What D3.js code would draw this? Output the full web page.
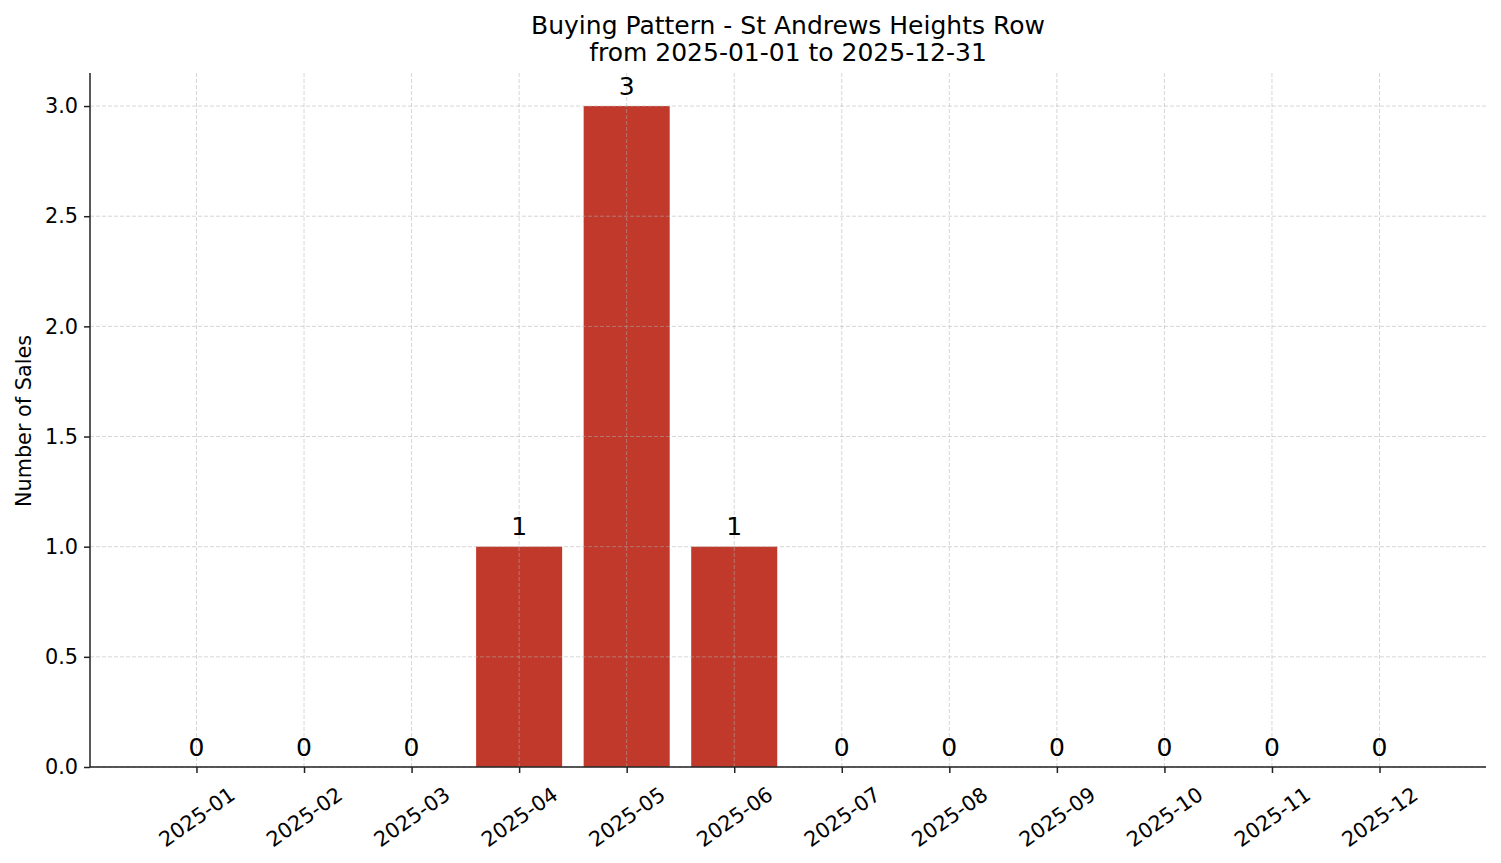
<!DOCTYPE html>
<html>
<head>
<meta charset="utf-8">
<script src="https://cdn.jsdelivr.net/npm/d3@7"></script>
<style>
  body { margin: 0; background: #fff; }
  text { font-family: "DejaVu Sans", sans-serif; fill: #000; }
</style>
</head>
<body>
<div id="chart"></div>
<script>
// 数据
const months = ["2025-01", "2025-02", "2025-03", "2025-04", "2025-05", "2025-06",
                "2025-07", "2025-08", "2025-09", "2025-10", "2025-11", "2025-12"];
const sales = [0, 0, 0, 1, 3, 1, 0, 0, 0, 0, 0, 0];
const yTicks = [0, 0.5, 1.0, 1.5, 2.0, 2.5, 3.0];
const titleLines = ["Buying Pattern - St Andrews Heights Row", "from 2025-01-01 to 2025-12-31"];

const WIDTH = 1501, HEIGHT = 863;
const X1 = 90, X2 = 1486, Y1 = 73, Y2 = 767;
const BAR_COLOR = "#c0392b";
const AXIS_COLOR = "#222";
const TICK_FONT = "20.8px";
const BIG_FONT = "25px";

const svg = d3.select("#chart").append("svg")
    .attr("width", WIDTH)
    .attr("height", HEIGHT);

// 比例尺
const x = d3.scaleLinear().domain([-0.99, months.length - 0.01]).range([X1, X2]);
const y = d3.scaleLinear().domain([0, d3.max(sales) * 1.05]).range([Y2, Y1]);

// 柱子
svg.append("g").selectAll("rect")
    .data(sales)
    .enter()
    .append("rect")
    .attr("x", (d, i) => x(i - 0.4))
    .attr("width", x(0.8) - x(0))
    .attr("y", d => y(d))
    .attr("height", d => Y2 - y(d))
    .attr("fill", BAR_COLOR);

// 网格 (在柱子上方)
const grid = svg.append("g")
    .attr("stroke", "#b0b0b0")
    .attr("stroke-opacity", 0.65)
    .attr("stroke-width", 0.8)
    .attr("stroke-dasharray", "4,2");
grid.selectAll("line.h")
    .data(yTicks)
    .enter()
    .append("line")
    .attr("x1", X1).attr("x2", X2)
    .attr("y1", d => y(d)).attr("y2", d => y(d));
grid.selectAll("line.v")
    .data(months)
    .enter()
    .append("line")
    .attr("x1", (d, i) => x(i)).attr("x2", (d, i) => x(i))
    .attr("y1", Y1).attr("y2", Y2);

// 数值标签
svg.append("g").selectAll("text")
    .data(sales)
    .enter()
    .append("text")
    .attr("x", (d, i) => x(i))
    .attr("y", d => y(d) - 11.5)
    .attr("text-anchor", "middle")
    .style("font-size", BIG_FONT)
    .text(d => d);

// y 轴
const yAxis = svg.append("g")
    .attr("transform", `translate(${X1},0)`)
    .call(d3.axisLeft(y).tickValues(yTicks).tickFormat(d3.format(".1f")).tickSize(6).tickPadding(6));
yAxis.select(".domain").attr("d", `M0,${Y1}V${Y2}`);

// x 轴
const xAxis = svg.append("g")
    .attr("transform", `translate(0,${Y2})`)
    .call(d3.axisBottom(x).tickValues(d3.range(months.length)).tickFormat(i => months[i]).tickSize(6));
xAxis.select(".domain").attr("d", `M${X1},0H${X2}`);
xAxis.selectAll(".tick text")
    .attr("y", 0)
    .attr("dy", null)
    .attr("text-anchor", "middle")
    .attr("dominant-baseline", "central")
    .attr("transform", "translate(0,50) rotate(-35)");

svg.selectAll(".domain").attr("stroke", AXIS_COLOR).attr("stroke-width", 1.5);
svg.selectAll(".tick line").attr("stroke", AXIS_COLOR).attr("stroke-width", 1.5);
svg.selectAll(".tick text")
    .style("font-family", "DejaVu Sans, sans-serif")
    .style("font-size", TICK_FONT)
    .attr("fill", "#000");

// y 轴标题
svg.append("text")
    .attr("transform", `translate(31,421) rotate(-90)`)
    .attr("text-anchor", "middle")
    .style("font-size", TICK_FONT)
    .text("Number of Sales");

// 标题
svg.append("g").selectAll("text")
    .data(titleLines)
    .enter()
    .append("text")
    .attr("x", 788)
    .attr("y", (d, i) => 34 + i * 27)
    .attr("text-anchor", "middle")
    .style("font-size", BIG_FONT)
    .text(d => d);
</script>
</body>
</html>
